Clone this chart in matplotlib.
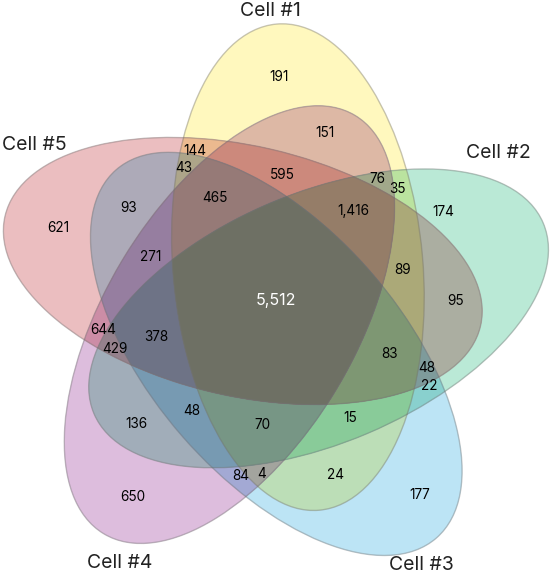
import itertools
import numpy as np
import matplotlib
matplotlib.use("Agg")
import matplotlib.pyplot as plt
from matplotlib.patches import Polygon, Ellipse

# ---------------- data ----------------
set_names = ["Cell #1", "Cell #2", "Cell #3", "Cell #4", "Cell #5"]
# region membership (sets 1..5) and counts
regions = ["1", "14", "15", "135", "145", "1345", "124", "12", "2", "1245",
           "125", "25", "1235", "235", "23", "123", "13", "3", "1234", "134",
           "34", "4", "24", "234", "245", "45", "2345", "345", "35", "5", "12345"]
counts = [191, 151, 144, 43, 595, 465, 76, 35, 174, 1416,
          89, 95, 83, 48, 22, 15, 24, 177, 70, 4,
          84, 650, 136, 48, 429, 644, 378, 271, 93, 621, 5512]

# ---------------- layout / style ----------------
set_colors = [(255, 248, 190), (186, 233, 214), (188, 228, 245),
              (221, 189, 221), (235, 190, 192)]
center = (273.0, 307.0)
radius = 47.0
semi_a, semi_b = 244.0, 125.0
base_offset = -58.0
tip_shift = -37.0

label_pos = {
    "1": (279, 77), "14": (325, 133), "15": (195, 151), "135": (184, 168),
    "145": (282, 175), "1345": (215, 198), "124": (377, 179), "12": (397, 189),
    "2": (443, 212), "1245": (353, 211), "125": (403, 270), "25": (456, 301),
    "1235": (389, 354), "235": (427, 368), "23": (429, 386), "123": (350, 418),
    "13": (335, 475), "3": (420, 495), "1234": (262, 425), "134": (262, 474),
    "34": (241, 476), "4": (133, 497), "24": (136, 424), "234": (192, 411),
    "245": (115, 349), "45": (103, 330), "2345": (156, 337), "345": (151, 257),
    "35": (129, 208), "5": (58, 228), "12345": (276, 301),
}
name_pos = [(270, 11), (498, 153), (421, 565), (120, 563), (34, 145)]

FONT = ["Inter", "DejaVu Sans"]


def ellipse_params(i):
    th = np.deg2rad(base_offset + 72 * i)
    cx = center[0] + radius * np.cos(th)
    cy = center[1] + radius * np.sin(th)
    ang = base_offset + 72 * i + tip_shift
    return cx, cy, ang


def ellipse_poly(cx, cy, ang, n=720):
    t = np.linspace(0, 2 * np.pi, n, endpoint=False)
    r = np.deg2rad(ang)
    x = semi_a * np.cos(t)
    y = semi_b * np.sin(t)
    return np.column_stack([cx + x * np.cos(r) - y * np.sin(r),
                            cy + x * np.sin(r) + y * np.cos(r)])


def clip_poly(subject, clipper):
    out = list(subject)
    m = len(clipper)
    for k in range(m):
        a = clipper[k]
        b = clipper[(k + 1) % m]
        inp = out
        out = []
        if not inp:
            break
        def inside(p):
            return (b[0] - a[0]) * (p[1] - a[1]) - (b[1] - a[1]) * (p[0] - a[0]) >= 0
        def inter(p, q):
            d1 = np.array(q) - np.array(p)
            d2 = b - a
            den = d1[0] * d2[1] - d1[1] * d2[0]
            s = ((a[0] - p[0]) * d2[1] - (a[1] - p[1]) * d2[0]) / den
            return np.array(p) + s * d1
        prev = inp[-1]
        for cur in inp:
            if inside(cur):
                if not inside(prev):
                    out.append(inter(prev, cur))
                out.append(cur)
            elif inside(prev):
                out.append(inter(prev, cur))
            prev = cur
    return np.array(out)


fig = plt.figure(figsize=(5.5, 5.78), dpi=100)
ax = fig.add_axes([0, 0, 1, 1])
ax.set_xlim(0, 550)
ax.set_ylim(578, 0)
ax.set_axis_off()

params = [ellipse_params(i) for i in range(5)]
polys = [ellipse_poly(*p) for p in params]

# multiplicative colour for every combination, drawn from small to large
for k in range(1, 6):
    for combo in itertools.combinations(range(5), k):
        poly = polys[combo[0]]
        for j in combo[1:]:
            poly = clip_poly(poly, polys[j])
            if len(poly) < 3:
                break
        if len(poly) < 3:
            continue
        col = np.ones(3)
        for j in combo:
            col *= np.array(set_colors[j]) / 255.0
        ax.add_patch(Polygon(poly, closed=True, facecolor=col,
                             edgecolor=col, linewidth=0.3, zorder=k))

for (cx, cy, ang) in params:
    ax.add_patch(Ellipse((cx, cy), 2 * semi_a, 2 * semi_b, angle=ang,
                         fill=False, edgecolor=(0.45, 0.45, 0.45, 0.4),
                         linewidth=1.0, zorder=10))

for reg, cnt in zip(regions, counts):
    x, y = label_pos[reg]
    is_core = reg == "12345"
    ax.text(x, y, f"{cnt:,}", ha="center", va="center",
            fontsize=11.5 if is_core else 9.8,
            family=FONT, color="white" if is_core else "black",
            zorder=20)

for name, (x, y) in zip(set_names, name_pos):
    ax.text(x, y, name, ha="center", va="center", fontsize=14,
            family=FONT, color="#222222", zorder=20)

fig.savefig("out.png", dpi=100)
